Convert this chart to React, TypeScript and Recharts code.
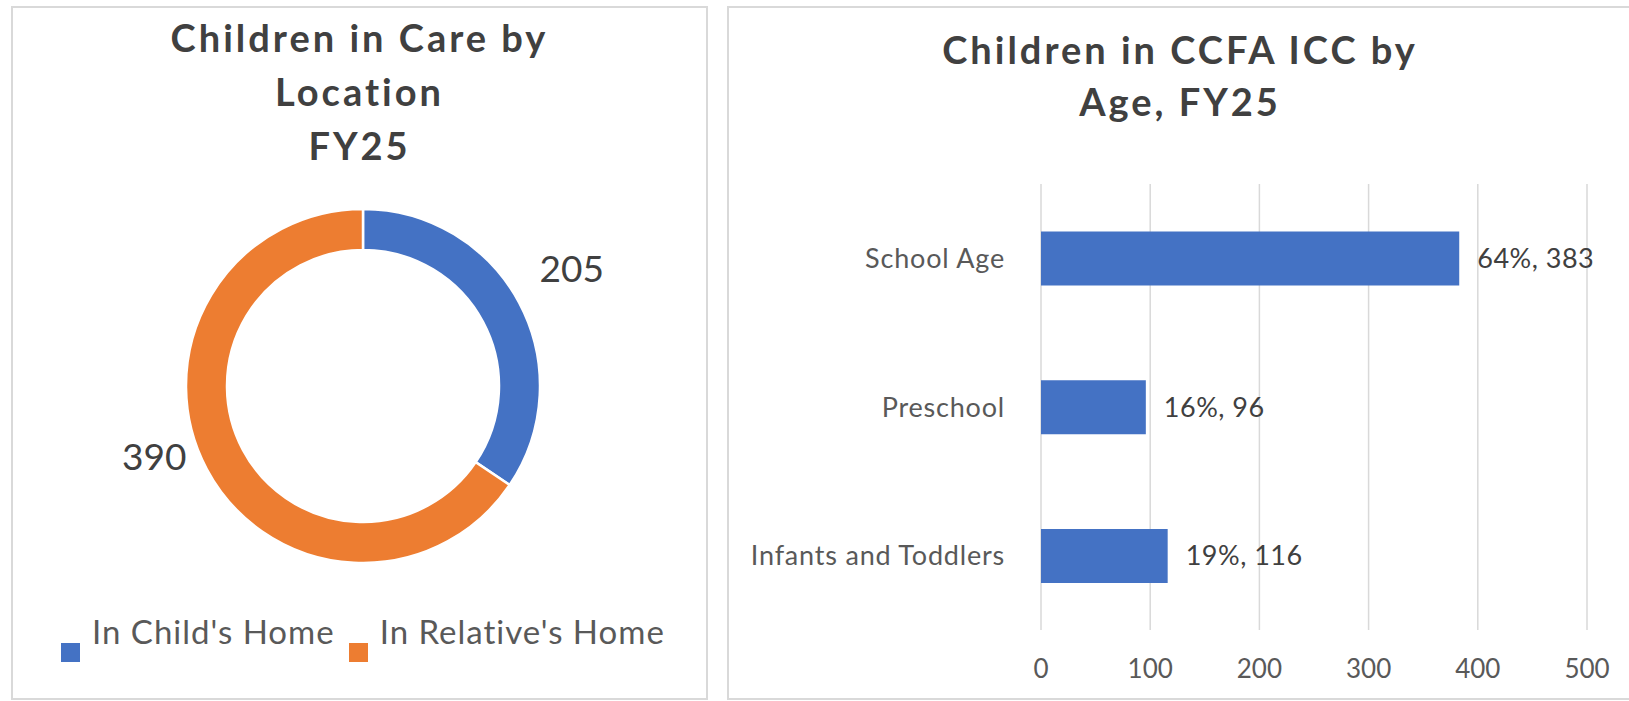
import {
  PieChart, Pie, Cell, Legend,
  BarChart, Bar, XAxis, YAxis, CartesianGrid, LabelList,
} from 'recharts'

const locationNames = ["In Child's Home", "In Relative's Home"]
const locationCounts = [205, 390]
const locationColors = ['#4472C4', '#ED7D31']

const ageGroups = ['School Age', 'Preschool', 'Infants and Toddlers']
const ageCounts = [383, 96, 116]
const agePercents = [64, 16, 19]
const ageTicks = [0, 100, 200, 300, 400, 500]

const FONT = 'Lato, "Open Sans", sans-serif'
const TITLE = '#404040'
const TICK = '#595959'
const GRID = '#d9d9d9'
const BLUE = '#4472C4'
const RAD = Math.PI / 180

const panel: React.CSSProperties = {
  position: 'absolute',
  top: 6,
  height: 694,
  border: `2px solid ${GRID}`,
  boxSizing: 'border-box',
  background: '#fff',
}

const titleStyle: React.CSSProperties = {
  position: 'absolute',
  left: 0,
  right: 0,
  textAlign: 'center',
  fontFamily: FONT,
  fontWeight: 700,
  fontSize: 38,
  letterSpacing: 3,
  color: TITLE,
  lineHeight: '54px',
  zIndex: 2,
}

const axisTick = { fill: TICK, fontSize: 27, fontFamily: FONT, letterSpacing: 0.8 }

const locationData = locationNames.map((name, i) => ({ name, value: locationCounts[i] }))
const ageData = ageGroups.map((group, i) => ({
  group,
  count: ageCounts[i],
  label: `${agePercents[i]}%, ${ageCounts[i]}`,
}))

// label sits outside the ring, anchored away from the centre
function donutLabel(props: any) {
  const { cx, cy, midAngle, outerRadius, value } = props
  const r = outerRadius + 23
  const x = cx + r * Math.cos(-midAngle * RAD)
  const y = cy + r * Math.sin(-midAngle * RAD)
  return (
    <text
      x={x}
      y={y}
      dy={-10}
      fill={TITLE}
      fontSize={37}
      fontFamily={FONT}
      textAnchor={x >= cx ? 'start' : 'end'}
    >
      {value}
    </text>
  )
}

function LocationLegend({ payload }: any) {
  return (
    <div style={{ display: 'flex', fontFamily: FONT, fontSize: 33, letterSpacing: 1, color: TICK }}>
      {(payload ?? []).map((p: any) => (
        <div key={p.value} style={{ display: 'flex', alignItems: 'flex-start', marginRight: 14 }}>
          <span style={{ width: 19, height: 19, background: p.color, marginTop: 31, marginRight: 12 }} />
          <span style={{ lineHeight: '38px' }}>{p.value}</span>
        </div>
      ))}
    </div>
  )
}

export default function App() {
  return (
    <div style={{ position: 'absolute', left: 0, top: 0, width: 1629, height: 701, background: '#fff', overflow: 'hidden' }}>
      <div style={{ ...panel, left: 11, width: 697 }}>
        <div style={{ ...titleStyle, top: 2 }}>
          Children in Care by<br />Location<br />FY25
        </div>
        <div style={{ position: 'absolute', left: -2, top: -2 }}>
          <PieChart width={697} height={694}>
            <Pie
              data={locationData}
              dataKey="value"
              nameKey="name"
              cx={347}
              cy={375}
              innerRadius={136}
              outerRadius={177}
              startAngle={90}
              endAngle={-270}
              stroke="#fff"
              strokeWidth={2.5}
              label={donutLabel}
              labelLine={false}
              isAnimationActive={false}
            >
              {locationData.map((d, i) => (
                <Cell key={d.name} fill={locationColors[i]} />
              ))}
            </Pie>
            <Legend
              content={<LocationLegend />}
              wrapperStyle={{ position: 'absolute', left: 50, top: 606, width: 'auto' }}
            />
          </PieChart>
        </div>
      </div>

      <div style={{ ...panel, left: 727, width: 920 }}>
        <div style={{ ...titleStyle, top: 15, width: 902, right: 'auto', lineHeight: '52px' }}>
          Children in CCFA ICC by<br />Age, FY25
        </div>
        <div style={{ position: 'absolute', left: -2, top: -2 }}>
          <BarChart
            width={902}
            height={694}
            data={ageData}
            layout="vertical"
            barCategoryGap="32%"
            margin={{ top: 178, right: 42, left: 0, bottom: 0 }}
          >
            <CartesianGrid horizontal={false} stroke={GRID} strokeWidth={1.5} />
            <XAxis
              type="number"
              domain={[0, 500]}
              ticks={ageTicks}
              axisLine={false}
              tickLine={false}
              tickMargin={24}
              height={70}
              tick={{ ...axisTick, fontSize: 26, letterSpacing: 0 }}
            />
            <YAxis
              type="category"
              dataKey="group"
              width={314}
              axisLine={false}
              tickLine={false}
              tickMargin={30}
              tick={axisTick}
            />
            <Bar dataKey="count" fill={BLUE} isAnimationActive={false}>
              <LabelList
                dataKey="label"
                position="right"
                offset={18}
                fill={TITLE}
                fontSize={27}
                fontFamily={FONT}
                letterSpacing={0.5}
              />
            </Bar>
          </BarChart>
        </div>
      </div>
    </div>
  )
}
